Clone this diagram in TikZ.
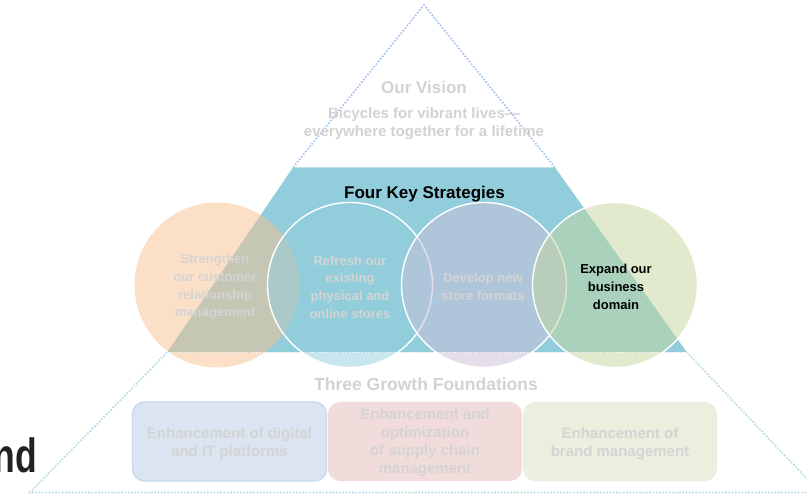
\documentclass[tikz,border=0pt]{standalone}
\usepackage{fontspec}
\setmainfont{Liberation Sans}
\definecolor{trapc}{HTML}{92CDDC}
\definecolor{cA}{HTML}{FAC090}
\definecolor{cB}{HTML}{92CDDC}
\definecolor{cC}{HTML}{CCC0DA}
\definecolor{cD}{HTML}{C3D69B}
\definecolor{fadec}{HTML}{D4D4D4}
\definecolor{headc}{HTML}{D2D2D2}
\definecolor{dotA}{HTML}{A9C5F2}
\definecolor{dotB}{HTML}{B5DCE8}
\definecolor{bxA}{HTML}{DBE4F1}
\definecolor{bxAl}{HTML}{C6D9F1}
\definecolor{bxB}{HTML}{F2DBDB}
\definecolor{bxC}{HTML}{EAEFDE}
\definecolor{darkc}{HTML}{222222}
\tikzset{
  dotline/.style={line width=1.7pt, dash pattern=on 1.7pt off 1.6pt},
  circ/.style={circle, minimum size=165pt, inner sep=0pt, fill opacity=0.5},
  ring/.style={draw=white, line width=1.4pt, draw opacity=1},
  fadetxt/.style={text=fadec, inner sep=0pt, align=center},
  circtxt/.style={fadetxt, font=\bfseries\fontsize{13}{17.7}\selectfont},
  boxtxt/.style={fadetxt, font=\bfseries\fontsize{15}{18}\selectfont},
  fbox/.style={rounded corners=12pt, minimum width=194pt, minimum height=79pt, inner sep=0pt},
}
\begin{document}
\begin{tikzpicture}[x=1pt,y=-1pt]
\useasboundingbox (0,0) rectangle (807,497);
\clip (0,0) rectangle (807,497);
% top triangle (vision)
\coordinate (tapex) at (424,5);
\coordinate (tl) at (293,167.5);
\coordinate (tr) at (555,167.5);
\draw[dotline, draw=dotA] (tl) -- (tapex) -- (tr);
% bottom trapezoid (foundations)
\coordinate (bl) at (167,352.5);
\coordinate (br) at (687,352.5);
\coordinate (bbl) at (30,492.5);
\coordinate (bbr) at (820,492.5);
\draw[dotline, draw=dotB] (bl) -- (bbl) -- (bbr) -- (br);
% middle trapezoid (strategies)
\fill[trapc] (tl) -- (tr) -- (br) -- (bl) -- cycle;
% circles
\node[circ, fill=cA] (s1) at (217,285) {};
\node[circ, fill=cB, ring] (s2) at (350,285) {};
\node[circ, fill=cC, ring] (s3) at (484,285) {};
\node[circ, fill=cD, ring] (s4) at (615,285) {};
\draw[dotline, draw=white, draw opacity=0.7] (bl) -- (br);
% texts
\node[text=headc, inner sep=0pt, font=\bfseries\fontsize{17}{20}\selectfont] (vision) at (424,87) {Our Vision};
\node[text=headc, inner sep=0pt, align=center, font=\bfseries\fontsize{15}{18}\selectfont] (visiontxt) at (424,124) {Bicycles for vibrant lives—\\everywhere together for a lifetime};
\node[inner sep=0pt, font=\bfseries\fontsize{17}{20}\selectfont] (fks) at (424.5,194.5) {Four Key Strategies};
\node[circtxt] (t1) at (215,287) {Strengthen\\our customer\\relationship\\management};
\node[circtxt] (t2) at (350,287) {Refresh our\\existing\\physical and\\online stores};
\node[circtxt] (t3) at (483,287) {Develop new\\store formats};
\node[circtxt, text=black] (t4) at (616,287) {Expand our\\business\\domain};
\node[text=headc, inner sep=0pt, font=\bfseries\fontsize{17.5}{20}\selectfont] (tgf) at (426,384.5) {Three Growth Foundations};
% foundation boxes
\node[fbox, fill=bxA, draw=bxAl, line width=1.4pt] (f1) at (229.5,441.5) {};
\node[fbox, fill=bxB] (f2) at (425,441.5) {};
\node[fbox, fill=bxC] (f3) at (620,441.5) {};
\node[boxtxt] (f1t) at ([yshift=-2pt]f1.center) {Enhancement of digital\\and IT platforms};
\node[boxtxt] (f2t) at ([yshift=-1.5pt]f2.center) {Enhancement and\\optimization\\of supply chain\\management};
\node[boxtxt] (f3t) at ([yshift=-2pt]f3.center) {Enhancement of\\brand management};
% cut-off title fragment
\node[anchor=base east, inner sep=0pt, text=darkc, font=\bfseries\fontsize{48}{48}\selectfont] (nd) at (37,472.5) {\scalebox{0.74}[1]{nd}};
\end{tikzpicture}
\end{document}
